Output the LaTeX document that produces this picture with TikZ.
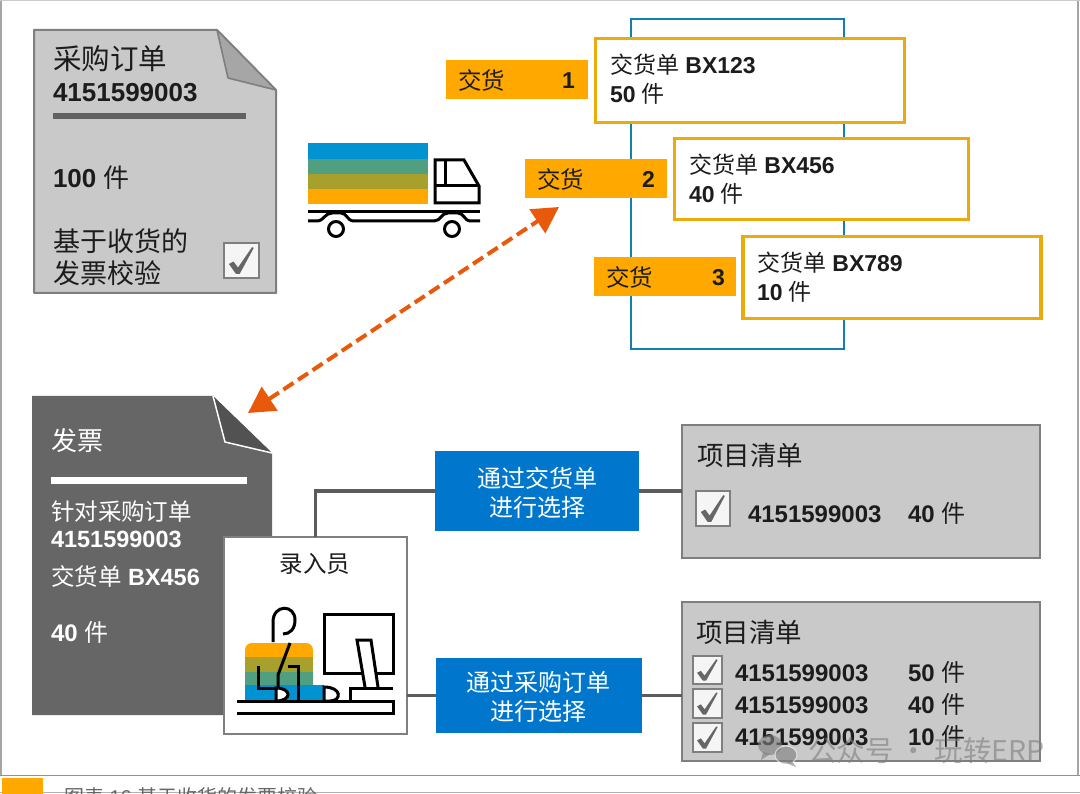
\documentclass[tikz,border=0pt]{standalone}
\usepackage{fontspec}
\setmainfont{Liberation Sans}
\newfontfamily\cjk{Noto Sans CJK SC}
\usetikzlibrary{arrows.meta}
\newcommand{\zh}[1]{{\cjk\mdseries #1}}
\newcommand{\fs}[1]{\fontsize{#1}{#1}\selectfont}
\definecolor{sheet}{HTML}{C9C9C9}
\definecolor{edge}{HTML}{7F7F7F}
\definecolor{foldgrey}{HTML}{A6A6A6}
\definecolor{dark}{HTML}{666666}
\definecolor{darkfold}{HTML}{525252}
\definecolor{amber}{HTML}{FFA800}
\definecolor{gold}{HTML}{EBAB0C}
\definecolor{azure}{HTML}{0077CC}
\definecolor{frameblue}{HTML}{0F80B0}
\definecolor{cargoblue}{HTML}{0092D1}
\definecolor{cargogreen}{HTML}{4F9F80}
\definecolor{cargoolive}{HTML}{A8A02C}
\definecolor{signal}{HTML}{E8590C}
\definecolor{ink}{HTML}{1C1C1C}
\tikzset{
  x=1pt, y=-1pt,
  txt/.style={inner sep=0pt, outer sep=0pt, anchor=base west, text=ink, font=\fs{24}},
  txtw/.style={txt, text=white},
  mid/.style={txt, anchor=base},
  plainbox/.style={inner sep=0pt, outer sep=0pt},
  orangebox/.style={plainbox, fill=amber, minimum width=142pt, minimum height=39pt},
  ticket/.style={plainbox, draw=gold, line width=3.5pt, fill=white},
  selbox/.style={plainbox, fill=azure},
  listbox/.style={plainbox, draw=edge, line width=1.6pt, fill=sheet},
  link/.style={draw=dark!90!black, line width=3.6pt},
  icon/.style={draw=black, line width=3pt, line join=miter},
}
% A ticked check box given by its left, top, right and bottom edges
\newcommand{\tickbox}[4]{%
  \fill[white!96!black, draw=edge, line width=1.3pt] (#1,#2) rectangle (#3,#4);
  \begin{scope}[shift={(#1,#2)}, xscale={(#3-#1)}, yscale={(#4-#2)}]
    \fill[dark] (.14,.60) -- (.27,.53) -- (.40,.70) -- (.80,.12) -- (.85,.14)
      -- (.45,.88) -- (.34,.88) -- cycle;
  \end{scope}}
\begin{document}
\begin{tikzpicture}
\useasboundingbox (0,0) rectangle (1080,794);
\fill[white] (0,0) rectangle (1080,794);

% Window edges and the caption strip at the foot
\draw[edge!70, line width=1.5pt] (1,0) -- (1,776);
\draw[edge!70, line width=1.5pt] (1078,0) -- (1078,776);
\draw[edge!40, line width=1pt] (0,.5) -- (1080,.5);
\draw[edge!85, line width=1.5pt] (0,775.5) -- (1080,775.5);
\draw[edge!60, line width=1.5pt] (0,792.5) -- (1080,792.5);
\fill[amber] (2,778) rectangle (43,794);
\node[txt, text=dark, font=\fs{20}] (caption) at (64,804) {\zh{图表} 16 \zh{基于收货的发票校验}};

% Purchase order sheet
\fill[sheet, draw=edge, line width=2pt, line join=round]
  (34,30) -- (217,30) -- (276,90) -- (276,293) -- (34,293) -- cycle;
\fill[foldgrey, draw=edge, line width=1.6pt, line join=round]
  (217,30) -- (228,78) -- (276,90) -- cycle;
\node[txt, font=\fs{28.5}] (potitle) at (53,70) {\zh{采购订单}};
\node[txt, font=\bfseries\fs{26}] (ponum) at (53,102) {4151599003};
\fill[dark!95!black] (53,113) rectangle (246,119);
\node[txt, font=\fs{26}] (poqty) at (53,188) {\textbf{100} \zh{件}};
\node[txt, font=\fs{27}] (pocheck1) at (53,252) {\zh{基于收货的}};
\node[txt, font=\fs{27}] (pocheck2) at (53,284) {\zh{发票校验}};
\tickbox{224}{243}{259}{278}

% Blue frame behind the deliveries
\draw[frameblue, line width=1.8pt] (631,19) rectangle (844,349);

% Truck: cargo bands, cab and chassis
\fill[amber] (308,189) rectangle (428,204);
\fill[cargoolive] (308,174) rectangle (428,189);
\fill[cargogreen] (308,159) rectangle (428,174);
\fill[cargoblue] (308,143) rectangle (428,159);
\draw[icon] (435,160) -- (464,160) -- (479,186) -- (479,203) -- (435,203) -- cycle;
\draw[icon] (445,160) -- (445,186);
\draw[icon] (435,186) -- (479,186);
\draw[icon] (308,212) -- (480,212);
\draw[icon] (308,221) -- (318,221) .. controls (323,221) and (325,213) .. (332,213)
  -- (341,213) .. controls (347,213) and (347,221) .. (354,221) -- (434,221)
  .. controls (441,221) and (441,213) .. (448,213) -- (458,213)
  .. controls (464,213) and (464,221) .. (471,221) -- (480,221);
\draw[icon, fill=white] (336,229) circle (7.5pt);
\draw[icon, fill=white] (452,229) circle (7.5pt);

% Delivery tags and delivery notes
\node[orangebox] (tag1) at (517,80) {};
\node[txt, font=\fs{23.5}] (tag1t) at (458,90) {\zh{交货}};
\node[txt, font=\bfseries\fs{23}] (tag1n) at (562,89) {1};
\node[orangebox] (tag2) at (596,179) {};
\node[txt, font=\fs{23.5}] (tag2t) at (537,189) {\zh{交货}};
\node[txt, font=\bfseries\fs{23}] (tag2n) at (642,188) {2};
\node[orangebox] (tag3) at (665,277) {};
\node[txt, font=\fs{23.5}] (tag3t) at (606,287) {\zh{交货}};
\node[txt, font=\bfseries\fs{23}] (tag3n) at (712,286) {3};

\node[ticket, minimum width=309pt, minimum height=84pt] (note1) at (750,80.5) {};
\node[txt, font=\fs{23}] (note1a) at (610,74) {\zh{交货单} \textbf{BX123}};
\node[txt, font=\fs{23}] (note1b) at (610,103) {\textbf{50} \zh{件}};
\node[ticket, minimum width=294pt, minimum height=81pt] (note2) at (821.5,179) {};
\node[txt, font=\fs{23}] (note2a) at (689,174) {\zh{交货单} \textbf{BX456}};
\node[txt, font=\fs{23}] (note2b) at (689,203) {\textbf{40} \zh{件}};
\node[ticket, minimum width=298pt, minimum height=82pt] (note3) at (892,277.5) {};
\node[txt, font=\fs{23}] (note3a) at (757,272) {\zh{交货单} \textbf{BX789}};
\node[txt, font=\fs{23}] (note3b) at (757,301) {\textbf{10} \zh{件}};

% Invoice sheet
\fill[dark] (32,396) -- (213,396) -- (272,453) -- (272,715) -- (32,715) -- cycle;
\fill[darkfold] (213,396) -- (225,442) -- (272,453) -- cycle;
\draw[white, line width=1.5pt, line join=round] (213,396) -- (225,442) -- (272,453);
\node[txtw, font=\fs{26}] (invtitle) at (51,451) {\zh{发票}};
\fill[white] (51,477) rectangle (247,484);
\node[txtw, font=\fs{23.5}] (inv1) at (51,520) {\zh{针对采购订单}};
\node[txtw, font=\bfseries\fs{23.5}] (inv2) at (51,547) {4151599003};
\node[txtw, font=\fs{23.5}] (inv3) at (51,585) {\zh{交货单} \textbf{BX456}};
\node[txtw, font=\fs{24}] (inv4) at (51,641) {\textbf{40} \zh{件}};

% Selection boxes and item lists
\node[selbox, minimum width=204pt, minimum height=80pt] (seldn) at (537,491) {};
\node[mid, text=white, font=\fs{24}] (seldn1) at (537,487) {\zh{通过交货单}};
\node[mid, text=white, font=\fs{24}] (seldn2) at (537,516) {\zh{进行选择}};
\node[selbox, minimum width=206pt, minimum height=75pt] (selpo) at (539,695.5) {};
\node[mid, text=white, font=\fs{24}] (selpo1) at (538,691) {\zh{通过采购订单}};
\node[mid, text=white, font=\fs{24}] (selpo2) at (538,720) {\zh{进行选择}};
\node[listbox, minimum width=358pt, minimum height=133pt] (list1) at (861,491.5) {};
\node[listbox, minimum width=358pt, minimum height=159pt] (list2) at (861,681.5) {};

% Clerk panel
\node[plainbox, draw=edge, line width=1.6pt, fill=white, minimum width=183pt, minimum height=197pt] (clerk) at (315.5,635.5) {};
\node[mid, font=\fs{23.5}] (clerkt) at (315,572) {\zh{录入员}};

% Connectors
\draw[link] (clerk.north) |- (seldn.west);
\draw[link] (seldn.east) -- (seldn.east -| list1.west);
\draw[link] (clerk.east |- selpo.west) -- (selpo.west);
\draw[link] (selpo.east) -- (selpo.east -| list2.west);

% Item list contents
\node[txt, font=\fs{26.5}] (l1t) at (697,465) {\zh{项目清单}};
\tickbox{696}{491}{730}{526}
\node[txt, font=\bfseries\fs{24}] (l1a) at (748,522) {4151599003};
\node[txt, font=\fs{24}] (l1b) at (908,522) {\textbf{40} \zh{件}};
\node[txt, font=\fs{26.5}] (l2t) at (696,642) {\zh{项目清单}};
\tickbox{693}{656}{722}{684}
\tickbox{693}{689}{722}{718}
\tickbox{693}{723}{722}{752}
\node[txt, font=\bfseries\fs{24}] (l2a) at (735,681) {4151599003};
\node[txt, font=\fs{24}] (l2b) at (908,681) {\textbf{50} \zh{件}};
\node[txt, font=\bfseries\fs{24}] (l2c) at (735,713) {4151599003};
\node[txt, font=\fs{24}] (l2d) at (908,713) {\textbf{40} \zh{件}};
\node[txt, font=\bfseries\fs{24}] (l2e) at (735,745) {4151599003};
\node[txt, font=\fs{24}] (l2f) at (908,745) {\textbf{10} \zh{件}};

% Clerk at the desk
\begin{scope}
  \clip (245,700) -- (245,650) arc[start angle=180, end angle=90, radius=7pt]
    -- (306,643) arc[start angle=90, end angle=0, radius=7pt] -- (313,685) -- (324,685) -- (324,700) -- cycle;
  \fill[amber] (240,640) rectangle (330,657);
  \fill[cargoolive] (240,657) rectangle (330,672);
  \fill[cargogreen] (240,672) rectangle (330,685);
  \fill[cargoblue] (240,685) rectangle (330,700);
\end{scope}
\draw[icon, line cap=butt] (273,642) -- (273,622) .. controls (273,604) and (295,604) .. (295,620)
  .. controls (295,629) and (290,634) .. (283,634);
\draw[icon] (290,643) -- (278,675) -- (278,688);
\draw[icon, fill=white] (276,688) .. controls (292,688) and (292,701) .. (276,701) -- cycle;
\draw[icon] (258,666) -- (258,688) -- (276,688);
\draw[icon] (288,666) -- (298,666) -- (298,701);
\draw[icon, fill=white] (324,701) -- (324,687) .. controls (342,687) and (342,701) .. (330,701) -- cycle;
\draw[icon] (324,614) rectangle (393,673);
\draw[icon, fill=white] (365,687) -- (357,640) -- (371,640) -- (378,687);
\draw[icon] (350,701) -- (350,688) -- (393,688);
\draw[icon] (237,701.5) -- (393,701.5) -- (393,713.5) -- (237,713.5);

% Dashed double arrow between the invoice and the second delivery
\coordinate (dnend) at (559,207);
\coordinate (invend) at (248,413);
\draw[signal, line width=4pt, dash pattern=on 12pt off 5.5pt,
  {Triangle[length=26pt,width=28pt]}-{Triangle[length=26pt,width=28pt]}] (invend) -- (dnend);

% Account mark over the lower right corner
\begin{scope}[opacity=.62]
  \fill[edge] (770,745) ellipse (12pt and 10pt);
  \fill[edge] (763,752) -- (761,760) -- (770,754) -- cycle;
  \fill[edge, draw=white, line width=1pt] (786,755) ellipse (11pt and 9pt);
  \fill[edge] (792,761) -- (796,767) -- (786,763) -- cycle;
  \node[txt, text=edge, font=\fs{28.5}] (mark) at (808,761) {\zh{公众号 · 玩转ERP}};
\end{scope}
\end{tikzpicture}
\end{document}
